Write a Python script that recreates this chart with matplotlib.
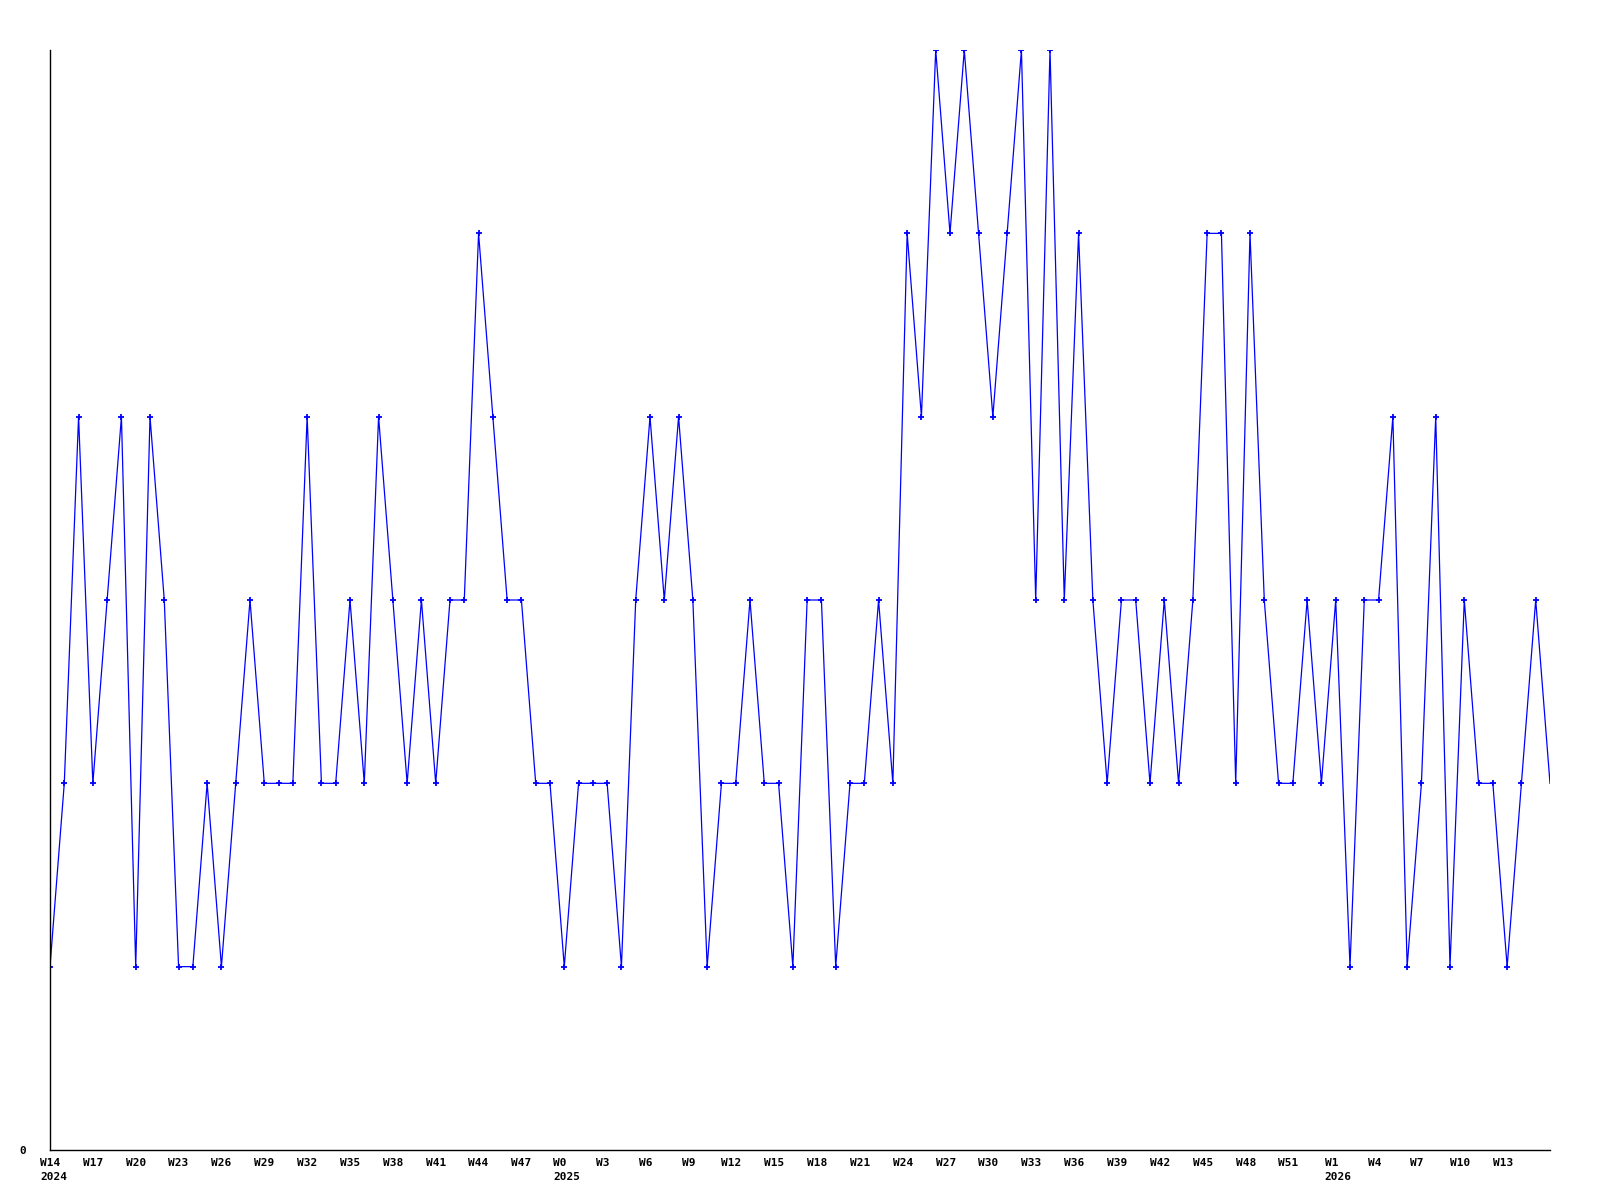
import numpy as np
import matplotlib
matplotlib.use('Agg')
import matplotlib.pyplot as plt

# weekly counts, W14 2024 .. W14 2026
counts = [1, 2, 4, 2, 3, 4, 1, 4, 3, 1,
          1, 2, 1, 2, 3, 2, 2, 2, 4, 2,
          2, 3, 2, 4, 3, 2, 3, 2, 3, 3,
          5, 4, 3, 3, 2, 2, 1, 2, 2, 2,
          1, 3, 4, 3, 4, 3, 1, 2, 2, 3,
          2, 2, 1, 3, 3, 1, 2, 2, 3, 2,
          5, 4, 6, 5, 6, 5, 4, 5, 6, 3,
          6, 3, 5, 3, 2, 3, 3, 2, 3, 2,
          3, 5, 5, 2, 5, 3, 2, 2, 3, 2,
          3, 1, 3, 3, 4, 1, 2, 4, 1, 3,
          2, 2, 1, 2, 3, 2]

labels_2024 = ['W14', 'W17', 'W20', 'W23', 'W26', 'W29', 'W32', 'W35',
               'W38', 'W41', 'W44', 'W47']
labels_2025 = ['W0', 'W3', 'W6', 'W9', 'W12', 'W15', 'W18', 'W21', 'W24',
               'W27', 'W30', 'W33', 'W36', 'W39', 'W42', 'W45', 'W48', 'W51',
               'W1', 'W4', 'W7', 'W10', 'W13']
years = {'W14': '2024', 'W0': '2025', 'W1': '2026'}

x = np.arange(len(counts))
mono = dict(family='DejaVu Sans Mono', fontweight='bold', fontsize=8)

fig = plt.figure(figsize=(16, 12), dpi=100)
ax = fig.add_axes([0.03125, 0.0417, 0.9375, 0.9166])

ax.plot(x, counts, color='#0000ff', linewidth=0.9,
        marker='+', markersize=4, markeredgewidth=1.3,
        markevery=slice(0, len(counts) - 1))

ax.set_xlim(0, len(counts) - 1)
ax.set_ylim(0, 6)

ticks = np.r_[np.arange(0, 34, 3), np.arange(35.7, 102, 3)]
labels = labels_2024 + labels_2025
ax.set_xticks(ticks)
ax.set_xticklabels(labels, **mono)
ax.set_yticks([0])
ax.set_yticklabels(['0'], **mono)
ax.tick_params(axis='x', length=0, pad=6)
ax.tick_params(axis='y', length=0, pad=17)

# year under the first week label of each year, left aligned with it
for t, lab in zip(ticks, labels):
    if lab in years:
        ax.annotate(years[lab], xy=(t, 0), xycoords=('data', 'axes fraction'),
                    xytext=(-len(lab) * 2.4, -16), textcoords='offset points',
                    ha='left', va='top', **mono)

for s in ['top', 'right']:
    ax.spines[s].set_visible(False)
for s in ['left', 'bottom']:
    ax.spines[s].set_linewidth(1.0)
    ax.spines[s].set_color('black')

fig.savefig('out.png', dpi=100, facecolor='white')
